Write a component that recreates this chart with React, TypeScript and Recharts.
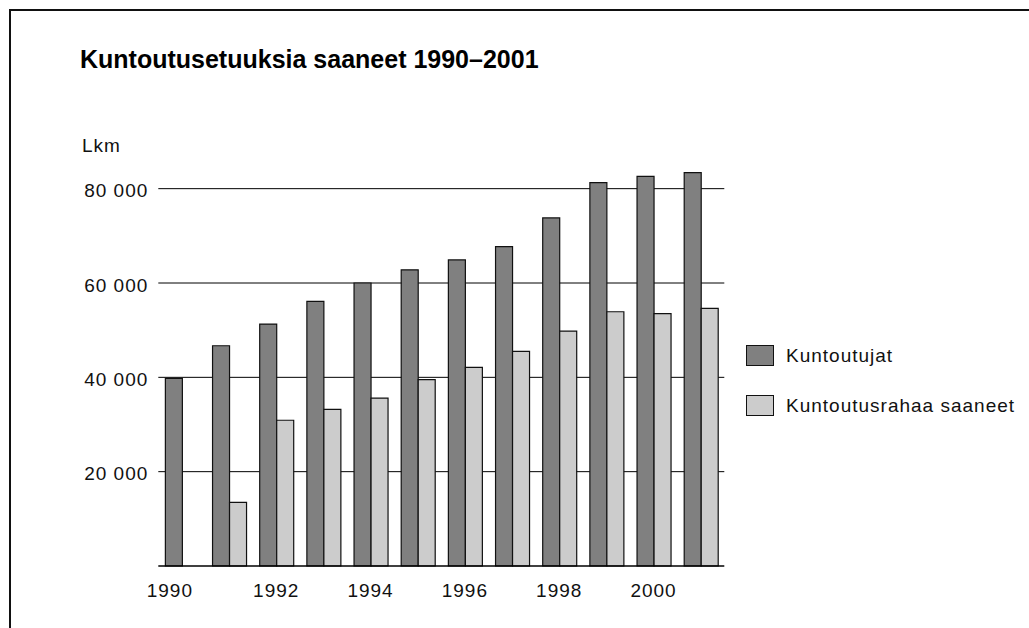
import {
  BarChart,
  Bar,
  XAxis,
  YAxis,
  CartesianGrid,
  Legend,
} from "recharts";

const years = [
  "1990", "1991", "1992", "1993", "1994", "1995",
  "1996", "1997", "1998", "1999", "2000", "2001",
];

const kuntoutujat = [
  39800, 46700, 51300, 56100, 60000, 62800,
  64900, 67700, 73800, 81300, 82600, 83400,
];

const kuntoutusraha = [
  null, 13500, 30900, 33200, 35600, 39500,
  42100, 45500, 49800, 53900, 53500, 54600,
];

const yTicks = [20000, 40000, 60000, 80000];

const FONT = '"Liberation Sans", Arial, Helvetica, sans-serif';

const data = years.map((year, i) => ({
  year,
  kuntoutujat: kuntoutujat[i],
  kuntoutusraha: kuntoutusraha[i],
}));

const formatThousands = (v: number) =>
  String(v).replace(/\B(?=(\d{3})+(?!\d))/g, " ");

function YearTick(props: any) {
  const { x, y, payload } = props;
  // first label sits a little left of its group in the original
  const shift = payload.value === "1990" ? -12 : 0;
  return (
    <text
      x={x + shift}
      y={y}
      dy="0.71em"
      textAnchor="middle"
      fill="#111"
      fontSize={19}
      fontFamily={FONT}
      letterSpacing={1}
    >
      {payload.value}
    </text>
  );
}

function renderLegend(props: any) {
  const { payload = [] } = props;
  return (
    <div style={{ fontFamily: FONT }}>
      {payload.map((entry: any) => (
        <div
          key={entry.value}
          style={{
            display: "flex",
            alignItems: "center",
            height: 21,
            marginBottom: 29,
          }}
        >
          <div
            style={{
              width: 26,
              height: 19,
              background: entry.color,
              border: "1.2px solid #111",
              marginRight: 12,
            }}
          />
          <span
            style={{
              fontSize: 19,
              letterSpacing: 1,
              color: "#111",
              whiteSpace: "nowrap",
            }}
          >
            {entry.value}
          </span>
        </div>
      ))}
    </div>
  );
}

export default function App() {
  return (
    <div
      style={{
        position: "absolute",
        left: 0,
        top: 0,
        width: 1029,
        height: 628,
        background: "#fff",
        overflow: "hidden",
      }}
    >
      <div
        style={{
          position: "absolute",
          left: 9,
          top: 9,
          right: 0,
          bottom: 0,
          borderTop: "2px solid #111",
          borderLeft: "2px solid #111",
        }}
      />
      <div
        style={{
          position: "absolute",
          left: 80,
          top: 47,
          fontFamily: FONT,
          fontWeight: "bold",
          fontSize: 25,
          lineHeight: "25px",
          color: "#000",
          whiteSpace: "nowrap",
        }}
      >
        Kuntoutusetuuksia saaneet 1990–2001
      </div>
      <div
        style={{
          position: "absolute",
          left: 82,
          top: 136,
          fontFamily: FONT,
          fontSize: 19,
          lineHeight: "19px",
          letterSpacing: 1,
          color: "#111",
        }}
      >
        Lkm
      </div>
      <div style={{ position: "absolute", left: 0, top: 0 }}>
        <BarChart
          width={1029}
          height={628}
          data={data}
          margin={{ top: 141.5, right: 304.7, bottom: 0, left: 0 }}
          barCategoryGap="15%"
          barGap={0}
        >
          <CartesianGrid
            horizontal
            vertical={false}
            syncWithTicks
            stroke="#000"
            strokeWidth={1}
          />
          <XAxis
            dataKey="year"
            height={62}
            interval={1}
            tickLine={false}
            tickSize={0}
            tickMargin={18}
            axisLine={{ stroke: "#000", strokeWidth: 1.3 }}
            tick={<YearTick />}
          />
          <YAxis
            width={158.3}
            domain={[0, 90000]}
            ticks={yTicks}
            tickFormatter={formatThousands}
            axisLine={false}
            tickLine={false}
            tickSize={0}
            tickMargin={10}
            tick={{
              fill: "#111",
              fontSize: 19,
              fontFamily: FONT,
              letterSpacing: 1,
              dy: 2,
            }}
          />
          <Legend
            layout="vertical"
            align="center"
            verticalAlign="middle"
            content={renderLegend}
            wrapperStyle={{ left: 746, top: 345, width: 280 }}
          />
          <Bar
            dataKey="kuntoutujat"
            name="Kuntoutujat"
            fill="#808080"
            stroke="#111"
            strokeWidth={1.2}
            isAnimationActive={false}
          />
          <Bar
            dataKey="kuntoutusraha"
            name="Kuntoutusrahaa saaneet"
            fill="#cccccc"
            stroke="#111"
            strokeWidth={1.2}
            isAnimationActive={false}
          />
        </BarChart>
      </div>
    </div>
  );
}
